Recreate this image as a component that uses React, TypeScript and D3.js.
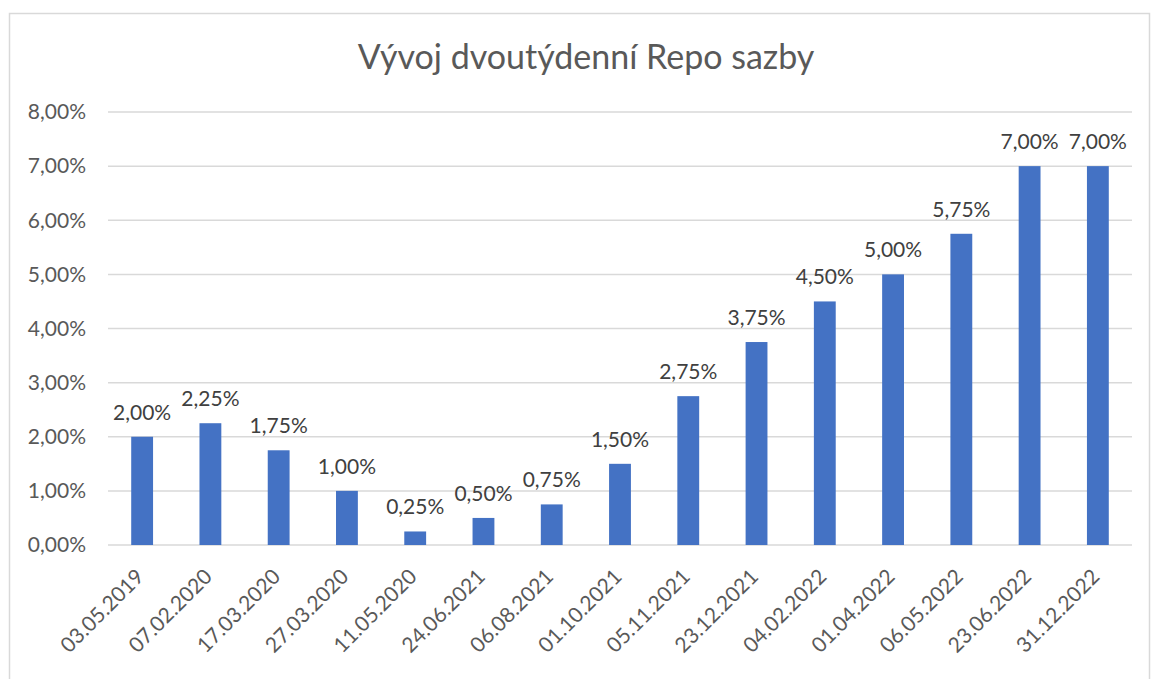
import React, { useEffect, useRef } from 'react';
import * as d3 from 'd3';

const dates = [
  '03.05.2019', '07.02.2020', '17.03.2020', '27.03.2020', '11.05.2020',
  '24.06.2021', '06.08.2021', '01.10.2021', '05.11.2021', '23.12.2021',
  '04.02.2022', '01.04.2022', '06.05.2022', '23.06.2022', '31.12.2022',
];
const rates = [2.0, 2.25, 1.75, 1.0, 0.25, 0.5, 0.75, 1.5, 2.75, 3.75, 4.5, 5.0, 5.75, 7.0, 7.0];
const yTicks = [0, 1, 2, 3, 4, 5, 6, 7, 8];
const title = 'Vývoj dvoutýdenní Repo sazby';

const fmt = (v: number) => v.toFixed(2).replace('.', ',') + '%';

export default function App() {
  const ref = useRef<SVGSVGElement>(null);

  useEffect(() => {
    const svg = d3.select(ref.current);
    svg.selectAll('*').remove();

    const W = 1152, H = 679;
    const left = 108, right = 1132, top = 112, bottom = 545;
    const font = 'Lato, "Open Sans", sans-serif';

    // chart border
    svg.append('rect')
      .attr('x', 9.5).attr('y', 13.5)
      .attr('width', 1140).attr('height', H + 20)
      .attr('fill', '#fff').attr('stroke', '#d9d9d9').attr('stroke-width', 1.5);

    svg.append('text')
      .attr('x', 586).attr('y', 69)
      .attr('text-anchor', 'middle')
      .attr('font-family', font).attr('font-size', 34)
      .attr('fill', '#595959')
      .text(title);

    const x = d3.scaleBand().domain(dates).range([left, right]).paddingInner(0.68).paddingOuter(0.34);
    const y = d3.scaleLinear().domain([0, 8]).range([bottom, top]);

    // gridlines
    svg.append('g').selectAll('line').data(yTicks).join('line')
      .attr('x1', left).attr('x2', right)
      .attr('y1', d => y(d)).attr('y2', d => y(d))
      .attr('stroke', '#d9d9d9').attr('stroke-width', 1.5);

    // y labels
    svg.append('g').selectAll('text').data(yTicks).join('text')
      .attr('x', 86).attr('y', d => y(d))
      .attr('dy', '0.35em')
      .attr('text-anchor', 'end')
      .attr('font-family', font).attr('font-size', 21)
      .attr('fill', '#595959')
      .text(d => fmt(d));

    // bars
    svg.append('g').selectAll('rect').data(rates).join('rect')
      .attr('x', (d, i) => x(dates[i])!)
      .attr('y', d => y(d))
      .attr('width', x.bandwidth())
      .attr('height', d => bottom - y(d))
      .attr('fill', '#4472c4');

    // data labels
    svg.append('g').selectAll('text').data(rates).join('text')
      .attr('x', (d, i) => x(dates[i])! + x.bandwidth() / 2)
      .attr('y', d => y(d) - 17)
      .attr('text-anchor', 'middle')
      .attr('font-family', font).attr('font-size', 21)
      .attr('fill', '#404040')
      .text(d => fmt(d));

    // x labels rotated
    svg.append('g').selectAll('text').data(dates).join('text')
      .attr('transform', d => `translate(${x(d)! + x.bandwidth() / 2 + 3},${bottom + 33}) rotate(-45)`)
      .attr('text-anchor', 'end')
      .attr('font-family', font).attr('font-size', 21)
      .attr('fill', '#595959')
      .text(d => d);

    svg.attr('width', W).attr('height', H);
  }, []);

  return (
    <svg ref={ref} style={{ position: 'absolute', left: 0, top: 0, background: '#fff' }} width={1152} height={679} />
  );
}
